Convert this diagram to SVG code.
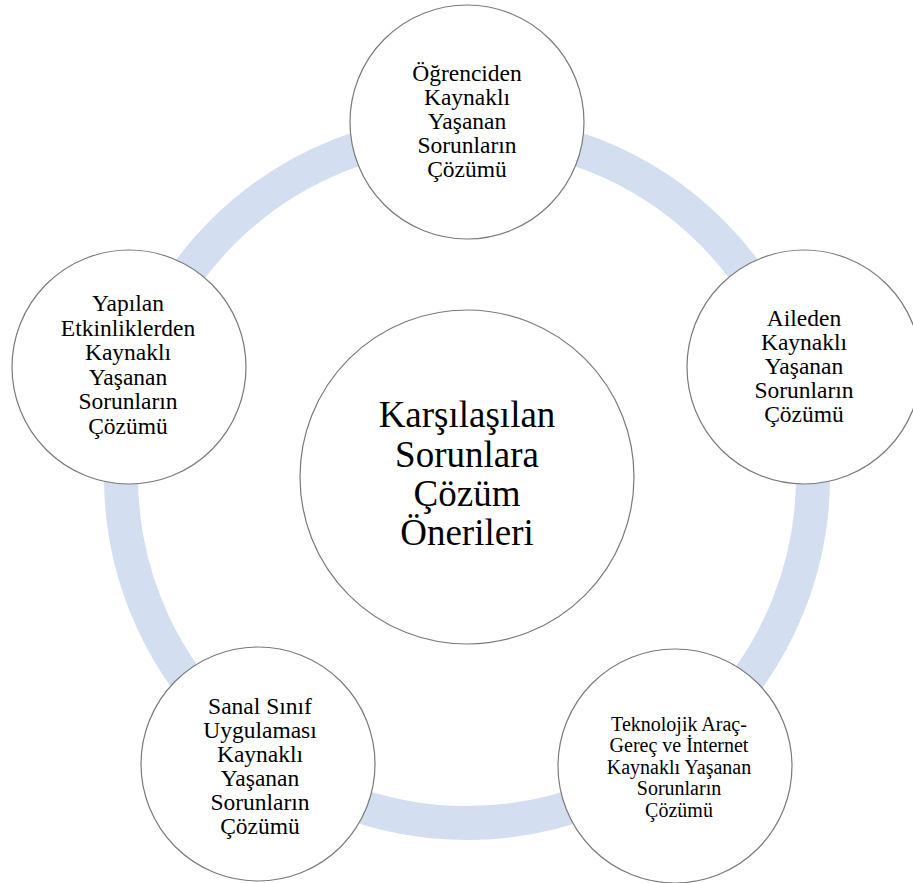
<svg xmlns="http://www.w3.org/2000/svg" width="913" height="883" viewBox="0 0 913 883">
<style>
.bg{fill:#ffffff}
.ring{fill:none;stroke:#d3def0;stroke-width:34}
.node{fill:#ffffff;stroke:#7a7a7a;stroke-width:1.2}
.t{font-family:"Liberation Serif","Times New Roman",serif;font-size:23.5px;fill:#000000;text-anchor:middle}
.ts{font-family:"Liberation Serif","Times New Roman",serif;font-size:20px;fill:#000000;text-anchor:middle}
.tc{font-family:"Liberation Serif","Times New Roman",serif;font-size:37px;fill:#000000;text-anchor:middle}
</style>
<rect class="bg" x="0" y="0" width="913" height="883"/>
<g id="connectors">
<circle class="ring" cx="467" cy="477" r="346"/>
</g>
<g id="center">
<circle class="node" cx="467" cy="477" r="167"/>
<text class="tc" x="467" y="427">Karşılaşılan</text>
<text class="tc" x="467" y="466.5">Sorunlara</text>
<text class="tc" x="467" y="505.5">Çözüm</text>
<text class="tc" x="467" y="545">Önerileri</text>
</g>
<g id="node-top">
<circle class="node" cx="467" cy="122" r="117"/>
<text class="t" x="467" y="81">Öğrenciden</text>
<text class="t" x="467" y="105">Kaynaklı</text>
<text class="t" x="467" y="129">Yaşanan</text>
<text class="t" x="467" y="153">Sorunların</text>
<text class="t" x="467" y="177">Çözümü</text>
</g>
<g id="node-right">
<circle class="node" cx="804" cy="367" r="117"/>
<text class="t" x="804" y="326">Aileden</text>
<text class="t" x="804" y="350">Kaynaklı</text>
<text class="t" x="804" y="374">Yaşanan</text>
<text class="t" x="804" y="398">Sorunların</text>
<text class="t" x="804" y="422">Çözümü</text>
</g>
<g id="node-bottom-right">
<circle class="node" cx="675" cy="766" r="117"/>
<text class="ts" x="679" y="730.5">Teknolojik Araç-</text>
<text class="ts" x="679" y="752">Gereç ve İnternet</text>
<text class="ts" x="679" y="773.5">Kaynaklı Yaşanan</text>
<text class="ts" x="679" y="795">Sorunların</text>
<text class="ts" x="679" y="816.5">Çözümü</text>
</g>
<g id="node-bottom-left">
<circle class="node" cx="258" cy="764" r="117"/>
<text class="t" x="260" y="714">Sanal Sınıf</text>
<text class="t" x="260" y="738">Uygulaması</text>
<text class="t" x="260" y="762">Kaynaklı</text>
<text class="t" x="260" y="786">Yaşanan</text>
<text class="t" x="260" y="810">Sorunların</text>
<text class="t" x="260" y="834">Çözümü</text>
</g>
<g id="node-left">
<circle class="node" cx="129" cy="367" r="117"/>
<text class="t" x="128" y="311">Yapılan</text>
<text class="t" x="128" y="335.5">Etkinliklerden</text>
<text class="t" x="128" y="360">Kaynaklı</text>
<text class="t" x="128" y="384.5">Yaşanan</text>
<text class="t" x="128" y="409">Sorunların</text>
<text class="t" x="128" y="433.5">Çözümü</text>
</g>
</svg>
